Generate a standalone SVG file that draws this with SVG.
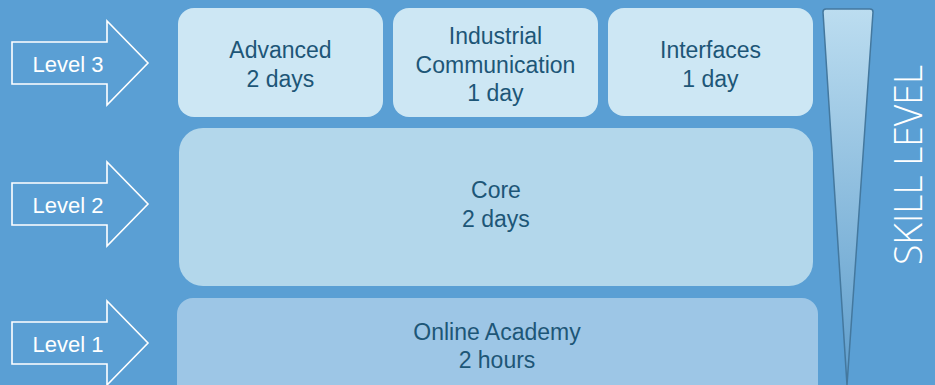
<svg xmlns="http://www.w3.org/2000/svg" width="935" height="385" viewBox="0 0 935 385">
<defs>
<linearGradient id="tri" x1="0" y1="0" x2="0" y2="1">
<stop offset="0" stop-color="#BCDDF0"/>
<stop offset="1" stop-color="#5E9DCC"/>
</linearGradient>
<style>
.bg{fill:#5A9FD4}
.arrow{fill:none;stroke:#FFFFFF;stroke-width:1.6;stroke-linejoin:miter}
.lvl{font-family:"Liberation Sans","Open Sans",sans-serif;font-size:22px;fill:#FFFFFF;text-anchor:middle}
.top{fill:#CDE7F4}
.core{fill:#B3D7EB}
.online{fill:#9DC6E6}
.t{font-family:"Liberation Sans","Open Sans",sans-serif;font-size:23px;fill:#1D5677;text-anchor:middle}
.skill{font-family:"Open Sans","Liberation Sans",sans-serif;font-weight:300;font-size:38px;fill:#FFFFFF;text-anchor:middle}
</style>
</defs>
<rect class="bg" x="0" y="0" width="935" height="385"/>

<g id="level3">
<path class="arrow" d="M12,42 H107 V21 L148,63 L107,105 V84 H12 Z"/>
<text class="lvl" x="68" y="72">Level 3</text>
</g>
<g id="level2">
<path class="arrow" d="M12,183 H107 V162 L148,204 L107,246 V225 H12 Z"/>
<text class="lvl" x="68" y="213">Level 2</text>
</g>
<g id="level1">
<path class="arrow" d="M12,322 H107 V301 L148,343 L107,385 V364 H12 Z"/>
<text class="lvl" x="68" y="352">Level 1</text>
</g>

<g id="advanced">
<rect class="top" x="178" y="8" width="205" height="109" rx="16"/>
<text class="t" x="280.5" y="58">Advanced</text>
<text class="t" x="280.5" y="87">2 days</text>
</g>
<g id="industrial">
<rect class="top" x="393" y="8" width="205" height="109" rx="16"/>
<text class="t" x="495.5" y="44">Industrial</text>
<text class="t" x="495.5" y="73">Communication</text>
<text class="t" x="495.5" y="101">1 day</text>
</g>
<g id="interfaces">
<rect class="top" x="608" y="8" width="205" height="108" rx="16"/>
<text class="t" x="710.5" y="58">Interfaces</text>
<text class="t" x="710.5" y="87">1 day</text>
</g>
<g id="core">
<rect class="core" x="179" y="128" width="634" height="158" rx="24"/>
<text class="t" x="496" y="198">Core</text>
<text class="t" x="496" y="227">2 days</text>
</g>
<g id="online">
<rect class="online" x="177" y="298" width="641" height="110" rx="16"/>
<text class="t" x="497" y="340">Online Academy</text>
<text class="t" x="497" y="368">2 hours</text>
</g>

<g id="skill">
<path d="M826,9 H870 Q873,9 873,12 L847,385 L823,12 Q823,9 826,9 Z" fill="url(#tri)" stroke="#44789E" stroke-width="1.5" stroke-linejoin="round"/>
<text class="skill" transform="translate(922,165) rotate(-90)" x="0" y="0" textLength="200" lengthAdjust="spacingAndGlyphs">SKILL LEVEL</text>
</g>
</svg>
